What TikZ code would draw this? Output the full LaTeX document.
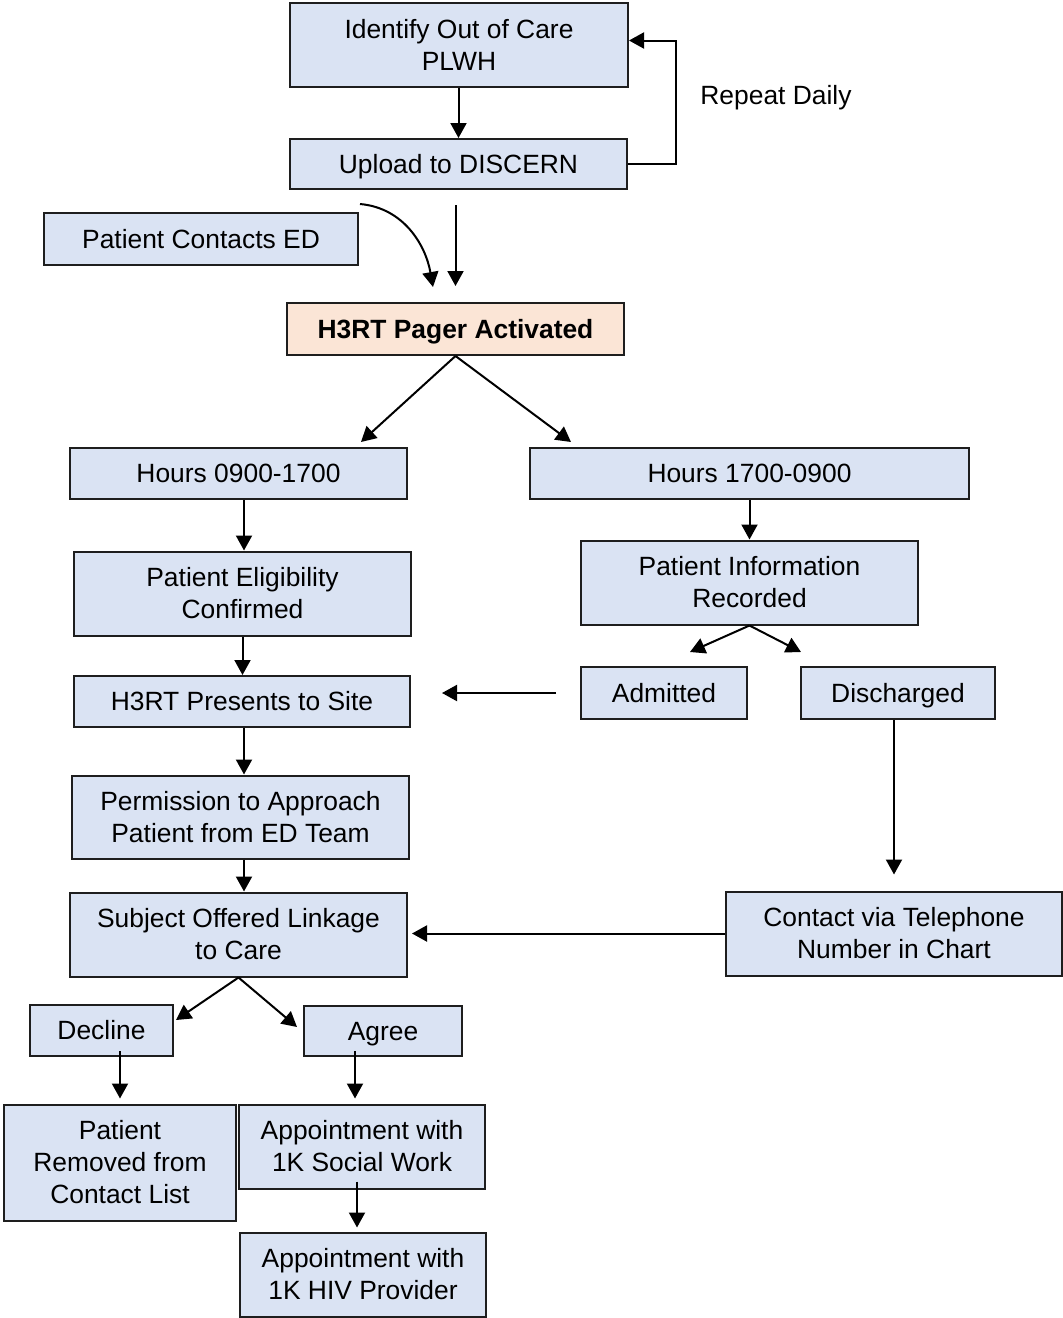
\documentclass[tikz,border=0pt]{standalone}
\usepackage{fontspec}
\setmainfont{Liberation Sans}
\usetikzlibrary{arrows.meta,calc}
\definecolor{boxblue}{HTML}{DAE3F3}
\definecolor{boxpeach}{HTML}{FBE5D6}
\definecolor{edge}{HTML}{1E1E1E}
\begin{document}
\begin{tikzpicture}[x=0.5pt,y=-0.5pt,
  box/.style={draw=edge,line width=1pt,fill=boxblue,inner sep=0pt,align=center,
    font=\fontsize{13.2}{16}\selectfont},
  one/.style={text height=9.2pt,text depth=0pt},
  hot/.style={box,fill=boxpeach,font=\fontsize{13.2}{16}\selectfont\bfseries},
  arr/.style={line width=1pt,-{Triangle[length=7.5pt,width=8pt]}},
  sz/.style 2 args={minimum width=#1pt,minimum height=#2pt}]
\useasboundingbox (0,0) rectangle (1063,1318);

% top loop
\node[box,sz={169}{42}] (ident) at (459,44.5) {Identify Out of Care\\PLWH};
\node[box,one,sz={168.5}{25}] (upload) at (458.5,164) {Upload to DISCERN};
\node[one,font=\fontsize{13.2}{16}\selectfont] (repeat) at (776,95) {Repeat Daily};
\node[box,one,sz={157}{26}] (ped) at (201,239) {Patient Contacts ED};
\node[hot,one,sz={168.5}{26}] (pager) at (455.5,329) {H3RT Pager Activated};

% two time windows
\node[box,one,sz={168.5}{25.5}] (h1) at (238.5,473.5) {Hours 0900-1700};
\node[box,one,sz={219.5}{25.5}] (h2) at (749.5,473.5) {Hours 1700-0900};
\node[box,sz={168.5}{42}] (elig) at (242.5,593.5) {Patient Eligibility\\Confirmed};
\node[box,sz={168.5}{42}] (info) at (749.5,582.5) {Patient Information\\Recorded};
\node[box,one,sz={83}{26}] (adm) at (664,693) {Admitted};
\node[box,one,sz={97}{26}] (dis) at (898,693) {Discharged};
\node[box,one,sz={168}{25.5}] (pres) at (242,701.5) {H3RT Presents to Site};
\node[box,sz={168.5}{41.5}] (perm) at (240.5,817) {Permission to Approach\\Patient from ED Team};
\node[box,sz={168.5}{42}] (subj) at (238.5,934.5) {Subject Offered Linkage\\to Care};
\node[box,sz={168}{42}] (tel) at (894,933.5) {Contact via Telephone\\Number in Chart};

% outcomes
\node[box,one,sz={71.5}{25.5}] (dec) at (101.5,1030.5) {Decline};
\node[box,one,sz={79}{25}] (agr) at (383,1031) {Agree};
\node[box,sz={116}{58}] (rem) at (120,1162.5) {Patient\\Removed from\\Contact List};
\node[box,sz={123}{42}] (sw) at (362,1146.5) {Appointment with\\1K Social Work};
\node[box,sz={123}{42}] (hiv) at (363,1274.5) {Appointment with\\1K HIV Provider};

% connectors
\draw[arr] (ident.south -| upload.north) -- (upload.north);
\coordinate (loopc) at (676,164);
\draw[arr] (upload.east) -- (loopc) |- ([yshift=2pt]ident.east);
\coordinate (cs) at (360,204);
\coordinate (ce) at (433,287);
\draw[arr] (cs) to[out=-5,in=100] (ce);
\draw[arr,shorten <=7.5pt,shorten >=8pt] (upload.south -| pager.north) -- (pager.north);

\draw[arr] (pager.south) -- ([xshift=-23.5pt,yshift=2.5pt]h1.north east);
\draw[arr] (pager.south) -- ([xshift=21pt,yshift=2.5pt]h2.north west);

\draw[arr] ([xshift=2.75pt]h1.south) -- ([xshift=2.75pt]h1.south |- elig.north);
\draw[arr] (h2.south) -- (info.north);
\draw[arr] (info.south) -- ([xshift=13pt,yshift=7pt]adm.north);
\draw[arr] (info.south) -- ([xshift=0.5pt,yshift=7pt]dis.north west);
\draw[arr] (elig.south) -- (elig.south |- pres.north);
\draw[arr] ([xshift=-12pt]adm.west) -- ([xshift=15.5pt]adm.west -| pres.east);
\draw[arr] ([xshift=1pt]pres.south) -- ([xshift=1pt]pres.south |- perm.north);
\draw[arr] ([xshift=1.75pt]perm.south) -- ([xshift=1.75pt]perm.south |- subj.north);
\draw[arr,shorten >=8pt] (dis.south -| tel.north) -- (tel.north);
\draw[arr,shorten >=2pt] (tel.west) -- (tel.west -| subj.east);

\draw[arr] (subj.south) -- ([xshift=1pt,yshift=-8pt]dec.north east);
\draw[arr] (subj.south) -- ([xshift=-3pt,yshift=-11pt]agr.north west);
\draw[arr,shorten >=2.5pt] ([yshift=3pt]dec.south -| rem.north) -- (rem.north);
\draw[arr,shorten >=2.5pt] ([xshift=-14pt,yshift=3pt]agr.south) -- ([xshift=-14pt]agr.south |- sw.north);
\draw[arr,shorten >=2pt] ([xshift=-2.5pt,yshift=4pt]sw.south) -- ([xshift=-2.5pt]sw.south |- hiv.north);
\end{tikzpicture}
\end{document}
